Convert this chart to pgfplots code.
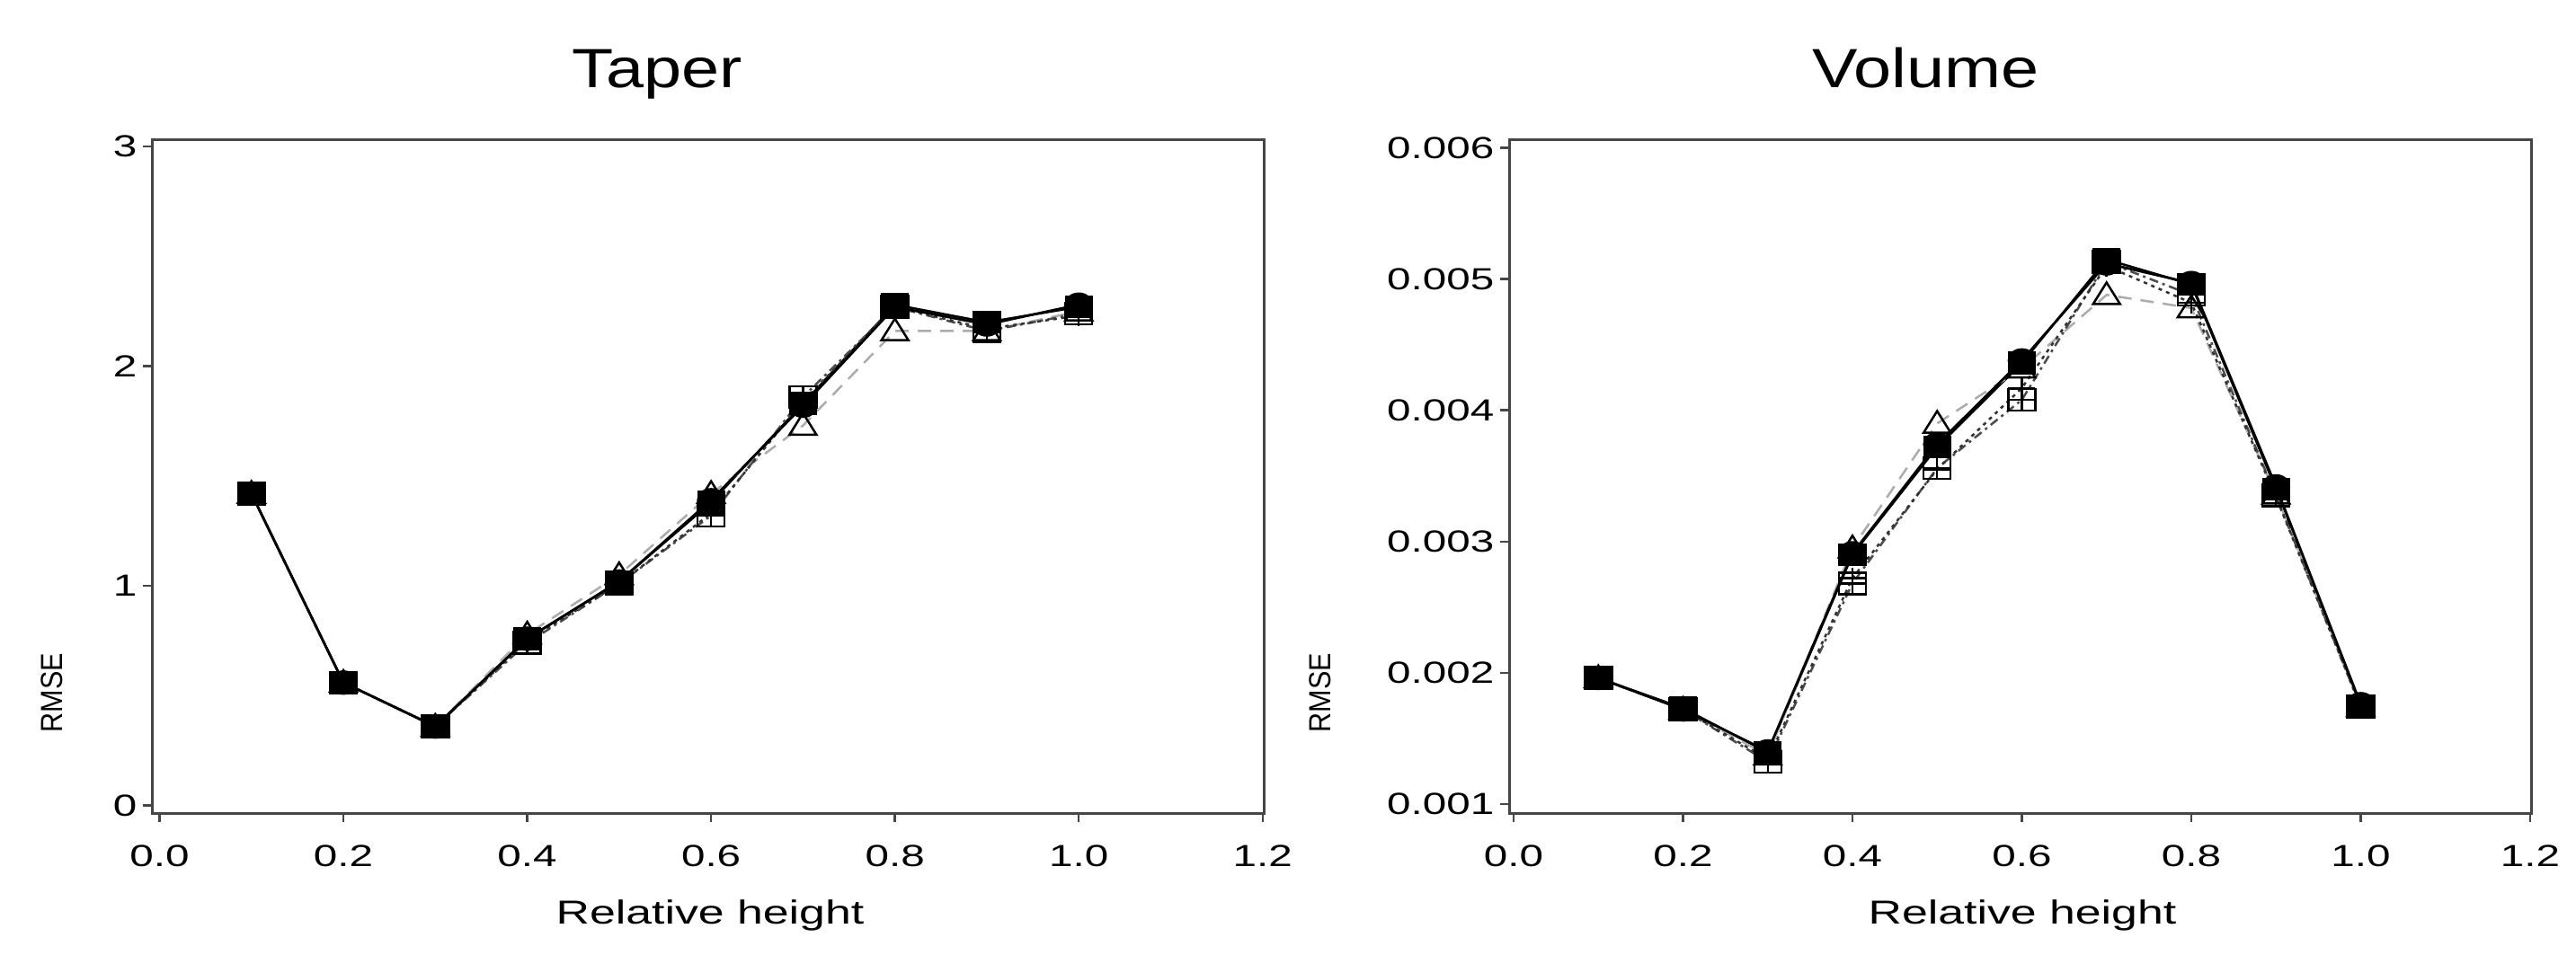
\documentclass[border=0pt]{standalone}
\usepackage{fontspec}
\setmainfont{Liberation Sans}
\newfontfamily\titlefont[FakeStretch=1.23]{Liberation Sans}
\newfontfamily\labfont[FakeStretch=1.4]{Liberation Sans}
\newfontfamily\ylabfont[FakeStretch=0.9]{Liberation Sans}
\usepackage{pgfplots}
\pgfplotsset{compat=1.18}

% marks, a little wider than tall like in the scan
\pgfdeclareplotmark{wsq*}{%
  \pgfpathrectangle{\pgfqpoint{-1.25\pgfplotmarksize}{-\pgfplotmarksize}}{\pgfqpoint{2.5\pgfplotmarksize}{2\pgfplotmarksize}}%
  \pgfusepathqfillstroke}
\pgfdeclareplotmark{wcirc*}{%
  \pgfpathellipse{\pgfpointorigin}{\pgfqpoint{1.18\pgfplotmarksize}{0pt}}{\pgfqpoint{0pt}{\pgfplotmarksize}}%
  \pgfusepathqfillstroke}
\pgfdeclareplotmark{wtri}{%
  \pgfpathmoveto{\pgfqpoint{0pt}{1.15\pgfplotmarksize}}%
  \pgfpathlineto{\pgfqpoint{-1.25\pgfplotmarksize}{-0.85\pgfplotmarksize}}%
  \pgfpathlineto{\pgfqpoint{1.25\pgfplotmarksize}{-0.85\pgfplotmarksize}}%
  \pgfpathclose\pgfusepathqstroke}
\pgfdeclareplotmark{wplus}{%
  \pgfpathmoveto{\pgfqpoint{-1.25\pgfplotmarksize}{0pt}}\pgfpathlineto{\pgfqpoint{1.25\pgfplotmarksize}{0pt}}%
  \pgfpathmoveto{\pgfqpoint{0pt}{-\pgfplotmarksize}}\pgfpathlineto{\pgfqpoint{0pt}{\pgfplotmarksize}}%
  \pgfusepathqstroke}
\pgfdeclareplotmark{wboxplus}{%
  \pgfpathrectangle{\pgfqpoint{-1.25\pgfplotmarksize}{-\pgfplotmarksize}}{\pgfqpoint{2.5\pgfplotmarksize}{2\pgfplotmarksize}}%
  \pgfpathmoveto{\pgfqpoint{-1.25\pgfplotmarksize}{0pt}}\pgfpathlineto{\pgfqpoint{1.25\pgfplotmarksize}{0pt}}%
  \pgfpathmoveto{\pgfqpoint{0pt}{-\pgfplotmarksize}}\pgfpathlineto{\pgfqpoint{0pt}{\pgfplotmarksize}}%
  \pgfusepathqstroke}

\pgfplotsset{
  myax/.style={
    scale only axis, anchor=south west, height=149.9pt,
    axis line style={gray!55!black, line width=0.6pt},
    tick style={gray!55!black, line width=0.5pt},
    tick align=outside, tick pos=left, major tick length=2pt,
    xtick={0,0.2,0.4,0.6,0.8,1.0,1.2},
    xticklabels={0.0,0.2,0.4,0.6,0.8,1.0,1.2},
    scaled ticks=false,
    ticklabel style={font=\labfont\fontsize{6.8pt}{8pt}\selectfont},
    xticklabel style={inner sep=0pt, yshift=-5pt},
    yticklabel style={inner sep=0pt, xshift=-1.2pt},
  },
  s1/.style={black, line width=0.55pt, mark=wcirc*, mark size=2.45pt, mark options={solid, fill=black}},
  s2/.style={black, line width=0.5pt, mark=wsq*, mark size=2.3pt, mark options={solid, fill=black}},
  s3/.style={gray!65, line width=0.5pt, dash pattern=on 3pt off 2pt, mark=wtri, mark size=2.4pt, mark options={solid, black}},
  s4/.style={gray!40!black, line width=0.5pt, dash pattern=on 0.8pt off 1pt, mark=wplus, mark size=2.4pt, mark options={solid, black}},
  s5/.style={gray!60!black, line width=0.5pt, dash pattern=on 2pt off 1pt on 0.6pt off 1pt, mark=wboxplus, mark size=2.4pt, mark options={solid, black}},
}

\begin{document}
\begin{tikzpicture}
\useasboundingbox (0,0) rectangle (573.2pt,212.4pt);

% ---- Taper ----
\begin{axis}[myax, at={(33.86pt,31.4pt)}, width=247.5pt,
  xmin=-0.008, xmax=1.202, ymin=-0.034, ymax=3.031,
  ytick={0,1,2,3}, yticklabels={0,1,2,3}]
\addplot[s2] coordinates {(0.1,1.42) (0.2,0.56) (0.3,0.36) (0.4,0.76) (0.5,1.02) (0.6,1.38) (0.7,1.83) (0.8,2.28) (0.9,2.20) (1.0,2.27)};
\addplot[s3] coordinates {(0.1,1.42) (0.2,0.56) (0.3,0.36) (0.4,0.78) (0.5,1.05) (0.6,1.42) (0.7,1.73) (0.8,2.16) (0.9,2.16) (1.0,2.25)};
\addplot[s5] coordinates {(0.1,1.42) (0.2,0.56) (0.3,0.36) (0.4,0.74) (0.5,1.01) (0.6,1.32) (0.7,1.86) (0.8,2.27) (0.9,2.16) (1.0,2.24)};
\addplot[s4] coordinates {(0.1,1.42) (0.2,0.56) (0.3,0.36) (0.4,0.75) (0.5,1.01) (0.6,1.33) (0.7,1.84) (0.8,2.27) (0.9,2.17) (1.0,2.23)};
\addplot[s1] coordinates {(0.1,1.42) (0.2,0.56) (0.3,0.36) (0.4,0.76) (0.5,1.02) (0.6,1.39) (0.7,1.82) (0.8,2.27) (0.9,2.19) (1.0,2.28)};
\end{axis}

% ---- Volume ----
\begin{axis}[myax, at={(335.86pt,31.4pt)}, width=227.5pt,
  xmin=-0.005, xmax=1.202, ymin=0.00093, ymax=0.006063,
  ytick={0.001,0.002,0.003,0.004,0.005,0.006},
  yticklabels={0.001,0.002,0.003,0.004,0.005,0.006}]
\addplot[s2] coordinates {(0.1,0.00196) (0.2,0.00173) (0.3,0.00139) (0.4,0.00290) (0.5,0.00372) (0.6,0.00436) (0.7,0.00515) (0.8,0.00496) (0.9,0.00340) (1.0,0.00175)};
\addplot[s3] coordinates {(0.1,0.00196) (0.2,0.00172) (0.3,0.00137) (0.4,0.00295) (0.5,0.00390) (0.6,0.00432) (0.7,0.00488) (0.8,0.00478) (0.9,0.00336) (1.0,0.00174)};
\addplot[s5] coordinates {(0.1,0.00196) (0.2,0.00172) (0.3,0.00132) (0.4,0.00268) (0.5,0.00356) (0.6,0.00408) (0.7,0.00513) (0.8,0.00488) (0.9,0.00335) (1.0,0.00174)};
\addplot[s4] coordinates {(0.1,0.00196) (0.2,0.00172) (0.3,0.00134) (0.4,0.00272) (0.5,0.00355) (0.6,0.00417) (0.7,0.00510) (0.8,0.00482) (0.9,0.00334) (1.0,0.00174)};
\addplot[s1] coordinates {(0.1,0.00196) (0.2,0.00172) (0.3,0.00140) (0.4,0.00291) (0.5,0.00374) (0.6,0.00438) (0.7,0.00512) (0.8,0.00497) (0.9,0.00342) (1.0,0.00176)};
\end{axis}

% titles and axis labels
\node[anchor=base, inner sep=0pt, font=\titlefont\fontsize{12.3pt}{14pt}\selectfont] at (146.2pt,193pt) {Taper};
\node[anchor=base, inner sep=0pt, font=\titlefont\fontsize{12.3pt}{14pt}\selectfont] at (428.5pt,193pt) {Volume};
\node[anchor=base, inner sep=0pt, font=\labfont\fontsize{7.4pt}{9pt}\selectfont] at (158pt,6.8pt) {Relative height};
\node[anchor=base, inner sep=0pt, font=\labfont\fontsize{7.4pt}{9pt}\selectfont] at (450pt,6.8pt) {Relative height};
\node[rotate=90, inner sep=0pt, font=\ylabfont\fontsize{6.8pt}{8pt}\selectfont] at (11.6pt,58.2pt) {RMSE};
\node[rotate=90, inner sep=0pt, font=\ylabfont\fontsize{6.8pt}{8pt}\selectfont] at (293.8pt,58.2pt) {RMSE};
\end{tikzpicture}
\end{document}
